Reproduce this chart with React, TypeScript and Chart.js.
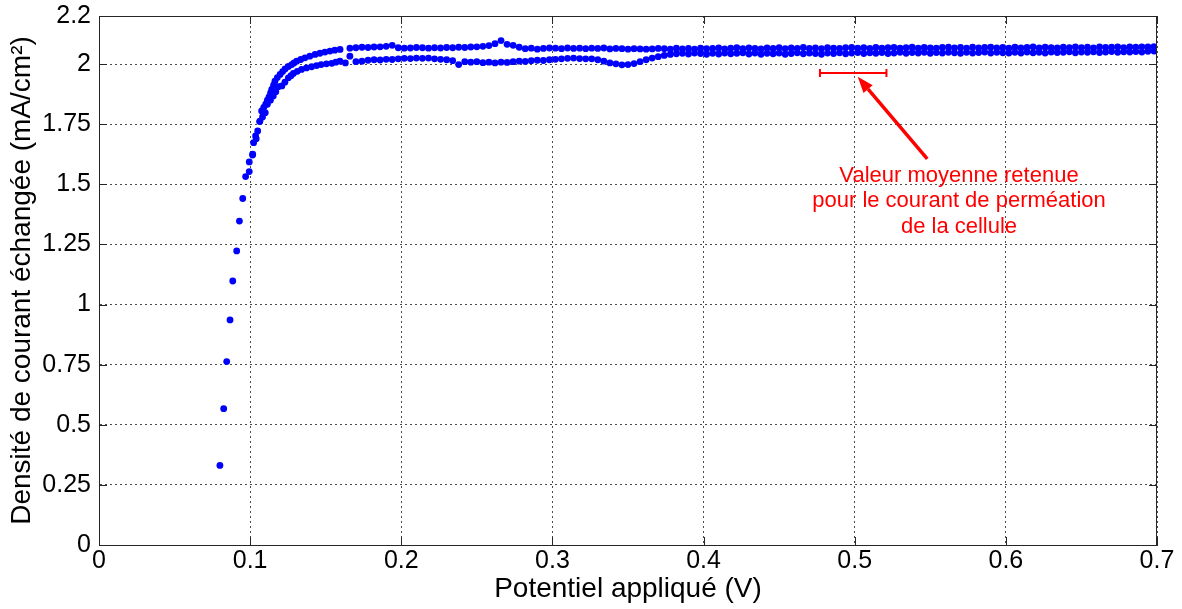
import { useEffect, useRef } from "react";
import { Chart, registerables } from "chart.js";

Chart.register(...registerables);

// ---- Data (potential in V, current density in mA/cm²) ----
const risePotential = [0.080, 0.0825, 0.0845, 0.0867, 0.0885, 0.0911, 0.0929, 0.0951, 0.0970];
const riseCurrent = [0.331, 0.567, 0.763, 0.936, 1.098, 1.223, 1.347, 1.441, 1.532];

const outerPotential = [0.0994, 0.0994, 0.1017, 0.1023, 0.1036, 0.1050, 0.1063, 0.1076, 0.1090, 0.1103, 0.1114, 0.1125, 0.1135, 0.1143, 0.1155, 0.1164, 0.1180, 0.1198, 0.1215, 0.1231, 0.1253, 0.1275, 0.1290, 0.1308, 0.1335, 0.1363, 0.1395, 0.1430, 0.1462, 0.1495, 0.1528, 0.1560, 0.1595];
const outerCurrent = [1.553, 1.593, 1.625, 1.673, 1.701, 1.722, 1.761, 1.805, 1.820, 1.833, 1.850, 1.864, 1.880, 1.895, 1.912, 1.929, 1.944, 1.957, 1.969, 1.980, 1.990, 1.998, 2.005, 2.012, 2.019, 2.026, 2.033, 2.040, 2.045, 2.050, 2.054, 2.058, 2.061];

const innerPotential = [0.1016, 0.1040, 0.1065, 0.1082, 0.1100, 0.1114, 0.1134, 0.1153, 0.1170, 0.1186, 0.1210, 0.1230, 0.1253, 0.1270, 0.1286, 0.1312, 0.1340, 0.1373, 0.1407, 0.1440, 0.1470, 0.1505, 0.1540, 0.1567, 0.1594, 0.1630];
const innerCurrent = [1.622, 1.690, 1.763, 1.780, 1.798, 1.833, 1.850, 1.867, 1.885, 1.906, 1.909, 1.925, 1.943, 1.952, 1.961, 1.970, 1.978, 1.984, 1.989, 1.994, 1.998, 2.001, 2.003, 2.008, 2.012, 2.005];

const plateauPotential = [
  0.166, 0.170, 0.174, 0.178, 0.182, 0.186, 0.190, 0.194, 0.198, 0.202,
  0.206, 0.210, 0.214, 0.218, 0.222, 0.226, 0.230, 0.234, 0.238, 0.242,
  0.246, 0.250, 0.254, 0.258, 0.262, 0.266, 0.270, 0.274, 0.278, 0.282,
  0.286, 0.290, 0.294, 0.298, 0.302, 0.306, 0.310, 0.314, 0.318, 0.322,
  0.326, 0.330, 0.334, 0.338, 0.342, 0.346, 0.350, 0.354, 0.358, 0.362,
  0.366, 0.370, 0.374, 0.378, 0.382, 0.386, 0.390, 0.394, 0.398, 0.402,
  0.406, 0.410, 0.414, 0.418, 0.422, 0.426, 0.430, 0.434, 0.438, 0.442,
  0.446, 0.450, 0.454, 0.458, 0.462, 0.466, 0.470, 0.474, 0.478, 0.482,
  0.486, 0.490, 0.494, 0.498, 0.502, 0.506, 0.510, 0.514, 0.518, 0.522,
  0.526, 0.530, 0.534, 0.538, 0.542, 0.546, 0.550, 0.554, 0.558, 0.562,
  0.566, 0.570, 0.574, 0.578, 0.582, 0.586, 0.590, 0.594, 0.598, 0.602,
  0.606, 0.610, 0.614, 0.618, 0.622, 0.626, 0.630, 0.634, 0.638, 0.642,
  0.646, 0.650, 0.654, 0.658, 0.662, 0.666, 0.670, 0.674, 0.678, 0.682,
  0.686, 0.690, 0.694, 0.698,
];
const plateauUpper = [
  2.066, 2.068, 2.070, 2.069, 2.071, 2.072, 2.074, 2.078, 2.068, 2.066,
  2.067, 2.069, 2.068, 2.066, 2.068, 2.067, 2.069, 2.068, 2.070, 2.069,
  2.071, 2.072, 2.074, 2.077, 2.085, 2.098, 2.082, 2.078, 2.070, 2.064,
  2.066, 2.062, 2.065, 2.067, 2.066, 2.064, 2.067, 2.065, 2.066, 2.064,
  2.066, 2.065, 2.067, 2.063, 2.065, 2.064, 2.062, 2.064, 2.063, 2.062,
  2.063, 2.065, 2.064, 2.062, 2.066, 2.063, 2.065, 2.062, 2.066, 2.064,
  2.065, 2.067, 2.063, 2.066, 2.068, 2.064, 2.067, 2.065, 2.063, 2.067,
  2.065, 2.068, 2.064, 2.067, 2.065, 2.069, 2.065, 2.067, 2.064, 2.068,
  2.066, 2.065, 2.068, 2.069, 2.066, 2.068, 2.065, 2.069, 2.066, 2.068,
  2.069, 2.066, 2.068, 2.070, 2.066, 2.069, 2.067, 2.066, 2.069, 2.070,
  2.067, 2.069, 2.066, 2.070, 2.067, 2.069, 2.070, 2.067, 2.069, 2.066,
  2.070, 2.067, 2.069, 2.071, 2.067, 2.070, 2.068, 2.067, 2.070, 2.068,
  2.071, 2.068, 2.070, 2.067, 2.071, 2.069, 2.070, 2.072, 2.068, 2.071,
  2.070, 2.072, 2.071, 2.073,
];
const plateauLower = [
  2.033, 2.010, 2.012, 2.016, 2.018, 2.017, 2.020, 2.019, 2.022, 2.024,
  2.023, 2.025, 2.024, 2.025, 2.022, 2.020, 2.018, 2.014, 1.998, 2.010,
  2.008, 2.010, 2.006, 2.008, 2.005, 2.008, 2.007, 2.010, 2.012, 2.011,
  2.014, 2.016, 2.015, 2.018, 2.020, 2.022, 2.024, 2.025, 2.023, 2.022,
  2.022, 2.018, 2.012, 2.005, 2.001, 1.997, 1.998, 2.002, 2.010, 2.018,
  2.025, 2.031, 2.036, 2.040, 2.043, 2.045, 2.042, 2.046, 2.044, 2.041,
  2.045, 2.042, 2.046, 2.043, 2.045, 2.047, 2.042, 2.046, 2.041, 2.045,
  2.043, 2.046, 2.041, 2.044, 2.047, 2.043, 2.046, 2.044, 2.041, 2.046,
  2.044, 2.047, 2.043, 2.046, 2.048, 2.044, 2.047, 2.045, 2.048, 2.044,
  2.046, 2.049, 2.045, 2.048, 2.046, 2.049, 2.045, 2.048, 2.046, 2.049,
  2.047, 2.045, 2.049, 2.046, 2.048, 2.050, 2.046, 2.049, 2.047, 2.046,
  2.049, 2.046, 2.050, 2.047, 2.049, 2.046, 2.050, 2.048, 2.049, 2.051,
  2.047, 2.050, 2.049, 2.051, 2.048, 2.050, 2.052, 2.049, 2.051, 2.050,
  2.052, 2.050, 2.053, 2.054,
];

const xTicks = [0, 0.1, 0.2, 0.3, 0.4, 0.5, 0.6, 0.7];
const xTickLabels = ["0", "0.1", "0.2", "0.3", "0.4", "0.5", "0.6", "0.7"];
const yTicks = [0, 0.25, 0.5, 0.75, 1, 1.25, 1.5, 1.75, 2, 2.2];
const yTickLabels = ["0", "0.25", "0.5", "0.75", "1", "1.25", "1.5", "1.75", "2", "2.2"];

// Annotation (data units)
const meanBar = { xMin: 0.477, xMax: 0.521, y: 1.963 };
const arrowFrom = { x: 0.548, y: 1.606 };
const arrowTo = { x: 0.502, y: 1.947 };
const noteLines = ["Valeur moyenne retenue", "pour le courant de perméation", "de la cellule"];
const noteAnchor = { x: 0.569, y: 1.510 };

const FONT = "'Liberation Sans', Arial, sans-serif";

const pts = (xs: number[], ys: number[]) => xs.map((x, i) => ({ x, y: ys[i] }));

export default function App() {
  const ref = useRef<HTMLCanvasElement>(null);
  useEffect(() => {
    document.body.style.margin = "0";
    const frame = {
      id: "frame",
      afterDatasetsDraw(chart: any) {
        const { ctx, chartArea: a, scales } = chart;
        ctx.save();
        ctx.strokeStyle = "#262626";
        ctx.lineWidth = 1;
        ctx.setLineDash([]);
        ctx.strokeRect(a.left + 0.5, a.top + 0.5, a.right - a.left - 1, a.bottom - a.top);
        const tl = 8;
        ctx.beginPath();
        xTicks.forEach((v) => {
          const px = Math.round(scales.x.getPixelForValue(v)) + 0.5;
          ctx.moveTo(px, a.bottom); ctx.lineTo(px, a.bottom - tl);
          ctx.moveTo(px, a.top); ctx.lineTo(px, a.top + tl);
        });
        yTicks.forEach((v) => {
          const py = Math.round(scales.y.getPixelForValue(v)) + 0.5;
          ctx.moveTo(a.left, py); ctx.lineTo(a.left + tl, py);
          ctx.moveTo(a.right, py); ctx.lineTo(a.right - tl, py);
        });
        ctx.stroke();

        // annotation
        const X = (v: number) => scales.x.getPixelForValue(v);
        const Y = (v: number) => scales.y.getPixelForValue(v);
        ctx.strokeStyle = "#ff0000";
        ctx.fillStyle = "#ff0000";
        ctx.lineWidth = 2;
        const by = Math.round(Y(meanBar.y));
        ctx.beginPath();
        ctx.moveTo(X(meanBar.xMin), by); ctx.lineTo(X(meanBar.xMax), by);
        ctx.moveTo(X(meanBar.xMin), by - 4); ctx.lineTo(X(meanBar.xMin), by + 4);
        ctx.moveTo(X(meanBar.xMax), by - 4); ctx.lineTo(X(meanBar.xMax), by + 4);
        ctx.stroke();

        const x0 = X(arrowFrom.x), y0 = Y(arrowFrom.y), x1 = X(arrowTo.x), y1 = Y(arrowTo.y);
        const ang = Math.atan2(y1 - y0, x1 - x0);
        const hl = 16, hw = 6;
        const bx = x1 - hl * Math.cos(ang), byy = y1 - hl * Math.sin(ang);
        ctx.lineWidth = 3.5;
        ctx.beginPath();
        ctx.moveTo(x0, y0); ctx.lineTo(bx, byy);
        ctx.stroke();
        ctx.beginPath();
        ctx.moveTo(x1, y1);
        ctx.lineTo(bx + hw * Math.sin(ang), byy - hw * Math.cos(ang));
        ctx.lineTo(bx - hw * Math.sin(ang), byy + hw * Math.cos(ang));
        ctx.closePath();
        ctx.fill();

        ctx.font = `22px ${FONT}`;
        ctx.textAlign = "center";
        ctx.textBaseline = "alphabetic";
        const tx = X(noteAnchor.x), ty = Y(noteAnchor.y);
        noteLines.forEach((t, i) => ctx.fillText(t, tx, ty + i * 25.5));
        ctx.restore();
      },
    };

    const pointStyle = {
      backgroundColor: "#0000ff",
      borderColor: "#0000ff",
      borderWidth: 0,
      pointRadius: 3.4,
      showLine: false,
    };

    const gridOpts = {
      color: "rgba(0,0,0,0.7)",
      lineWidth: 1,
      drawTicks: false,
    };

    const chart = new Chart(ref.current!, {
      type: "scatter",
      data: {
        datasets: [
          { data: pts(risePotential, riseCurrent), ...pointStyle },
          { data: [...pts(outerPotential, outerCurrent), ...pts(plateauPotential, plateauUpper)], ...pointStyle },
          { data: [...pts(innerPotential, innerCurrent), ...pts(plateauPotential, plateauLower)], ...pointStyle },
        ],
      },
      options: {
        responsive: false,
        animation: false,
        layout: { padding: { left: 0, right: 25, top: 16, bottom: 0 } },
        plugins: { legend: { display: false }, tooltip: { enabled: false } },
        scales: {
          x: {
            type: "linear",
            min: 0,
            max: 0.7,
            afterBuildTicks: (s: any) => { s.ticks = xTicks.map((v) => ({ value: v })); },
            afterFit: (s: any) => { s.height = 64; s.paddingLeft = 0; s.paddingRight = 0; },
            ticks: {
              color: "#000",
              font: { family: FONT, size: 25, lineHeight: 1 },
              padding: 4,
              maxRotation: 0,
              autoSkip: false,
              callback: (_v: any, i: number) => xTickLabels[i],
            },
            grid: { ...gridOpts },
            border: { display: true, color: "#262626", dash: [2, 3] },
            title: {
              display: true,
              text: "Potentiel appliqué (V)",
              color: "#000",
              font: { family: FONT, size: 28 },
              padding: { top: 0, bottom: 3 },
            },
          },
          y: {
            type: "linear",
            min: 0,
            max: 2.2,
            afterBuildTicks: (s: any) => { s.ticks = yTicks.map((v) => ({ value: v })); },
            afterFit: (s: any) => { s.width = 99; s.paddingTop = 0; s.paddingBottom = 0; },
            ticks: {
              color: "#000",
              font: { family: FONT, size: 25, lineHeight: 1 },
              padding: 8,
              autoSkip: false,
              callback: (_v: any, i: number) => yTickLabels[i],
            },
            grid: { ...gridOpts },
            border: { display: true, color: "#262626", dash: [2, 3] },
            title: {
              display: true,
              text: "Densité de courant échangée (mA/cm²)",
              color: "#000",
              font: { family: FONT, size: 28 },
              padding: { top: 5, bottom: 0 },
            },
          },
        },
      },
      plugins: [frame],
    } as any);
    return () => chart.destroy();
  }, []);

  return (
    <div style={{ width: 1182, height: 609 }}>
      <canvas ref={ref} width={1182} height={609} style={{ display: "block" }} />
    </div>
  );
}
